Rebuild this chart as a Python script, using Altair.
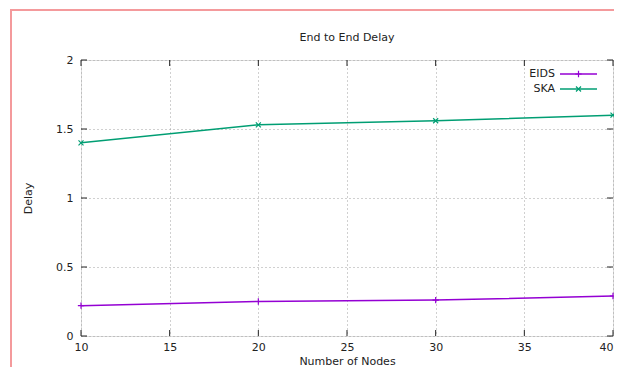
import altair as alt
import pandas as pd

nodes = [10, 20, 30, 40]
eids = [0.22, 0.25, 0.26, 0.29]
ska = [1.40, 1.53, 1.56, 1.60]
series_names = ["EIDS", "SKA"]
series_colors = ["#9400d3", "#009e73"]
x_ticks = [10, 15, 20, 25, 30, 35, 40]
y_ticks = [0, 0.5, 1, 1.5, 2]
chart_title = "End to End Delay"

W, H = 532, 276
FONT = "DejaVu Sans"

df = pd.DataFrame({
    "nodes": nodes * 2,
    "delay": eids + ska,
    "series": [series_names[0]] * 4 + [series_names[1]] * 4,
})
xt = pd.DataFrame({"t": x_ticks})
yt = pd.DataFrame({"t": y_ticks})

xs = alt.Scale(domain=[10, 40], nice=False, zero=False)
ys = alt.Scale(domain=[0, 2], nice=False)
cs = alt.Scale(domain=series_names, range=series_colors)

PLUS = "M-1,0L1,0M0,-1L0,1"
XMARK = "M-1,-1L1,1M-1,1L1,-1"

base = alt.Chart(df)

lines = base.mark_line(strokeWidth=1.5).encode(
    x=alt.X("nodes:Q", scale=xs,
            axis=alt.Axis(values=x_ticks, title="Number of Nodes", grid=True,
                          gridDash=[1, 3], gridColor="#a0a0a0", ticks=False,
                          domain=False, labelFont=FONT, labelFontSize=11,
                          labelColor="#222", labelPadding=5, labelFlush=False,
                          labelAlign=alt.expr(
                              "datum.value == 40 ? 'right' : 'center'"),
                          titleFont=FONT, titleFontSize=11,
                          titleFontWeight="normal", titleColor="#222",
                          titlePadding=3)),
    y=alt.Y("delay:Q", scale=ys,
            axis=alt.Axis(values=y_ticks, title="Delay", grid=True,
                          format="~g",
                          gridDash=[1, 3], gridColor="#a0a0a0", ticks=False,
                          domain=False, labelFont=FONT, labelFontSize=11,
                          labelColor="#222", labelPadding=8, labelFlush=False,
                          titleFont=FONT, titleFontSize=11,
                          titleFontWeight="normal", titleColor="#222",
                          titlePadding=22)),
    color=alt.Color("series:N", scale=cs, legend=None),
)

pts_e = alt.Chart(df[df.series == "EIDS"]).mark_point(
    shape=PLUS, filled=False, size=40, strokeWidth=1.2, opacity=1
).encode(x=alt.X("nodes:Q", scale=xs), y=alt.Y("delay:Q", scale=ys),
         color=alt.Color("series:N", scale=cs, legend=None))
pts_s = alt.Chart(df[df.series == "SKA"]).mark_point(
    shape=XMARK, filled=False, size=25, strokeWidth=1.2, opacity=1
).encode(x=alt.X("nodes:Q", scale=xs), y=alt.Y("delay:Q", scale=ys),
         color=alt.Color("series:N", scale=cs, legend=None))

tk = dict(color="#222", strokeWidth=1)
xtick_b = alt.Chart(xt).mark_rule(**tk).encode(
    x=alt.X("t:Q", scale=xs), y=alt.value(H), y2=alt.value(H - 6))
xtick_t = alt.Chart(xt).mark_rule(**tk).encode(
    x=alt.X("t:Q", scale=xs), y=alt.value(0), y2=alt.value(6))
ytick_l = alt.Chart(yt).mark_rule(**tk).encode(
    y=alt.Y("t:Q", scale=ys), x=alt.value(0), x2=alt.value(6))
ytick_r = alt.Chart(yt).mark_rule(**tk).encode(
    y=alt.Y("t:Q", scale=ys), x=alt.value(W), x2=alt.value(W - 6))

# title as text mark (so it is not pushed above the frame decoration)
title_mark = alt.Chart(pd.DataFrame({"t": [chart_title]})).mark_text(
    align="center", baseline="middle", font=FONT, fontSize=11, color="#222"
).encode(x=alt.value(W / 2), y=alt.value(-22), text="t:N")

# legend (gnuplot style: label left, sample right)
leg = []
leg_y = [14, 29]
shapes = [PLUS, XMARK]
sizes = [40, 25]
for i, name in enumerate(series_names):
    ld = pd.DataFrame({"series": [name]})
    c = alt.Chart(ld)
    leg.append(c.mark_text(align="right", baseline="middle", font=FONT,
                           fontSize=11, color="#222").encode(
        x=alt.value(W - 58), y=alt.value(leg_y[i]), text="series:N"))
    leg.append(c.mark_rule(strokeWidth=1.5, color=series_colors[i]).encode(
        x=alt.value(W - 53), x2=alt.value(W - 16), y=alt.value(leg_y[i])))
    leg.append(c.mark_point(shape=shapes[i], filled=False, size=sizes[i],
                            strokeWidth=1.2, opacity=1,
                            color=series_colors[i]).encode(
        x=alt.value(W - 34.5), y=alt.value(leg_y[i])))

# red frame of the screenshot
bd = pd.DataFrame({"k": [0]})
frame_l = alt.Chart(bd).mark_rule(color="#f49a9c", strokeWidth=2).encode(
    x=alt.value(-70), y=alt.value(-50), y2=alt.value(H + 40))
frame_t = alt.Chart(bd).mark_rule(color="#f49a9c", strokeWidth=2).encode(
    x=alt.value(-71), x2=alt.value(W + 10), y=alt.value(-50))

chart = alt.layer(
    lines, pts_e, pts_s, xtick_b, xtick_t, ytick_l, ytick_r, title_mark,
    *leg, frame_l, frame_t
).properties(
    width=W, height=H,
    autosize=alt.AutoSizeParams(type="none"),
    padding={"left": 73, "top": 52, "right": 1, "bottom": 31},
).configure_view(stroke="#333", strokeWidth=1.2).configure(background="white")

chart.save("out.html", embed_options={"renderer": "svg", "actions": False})
